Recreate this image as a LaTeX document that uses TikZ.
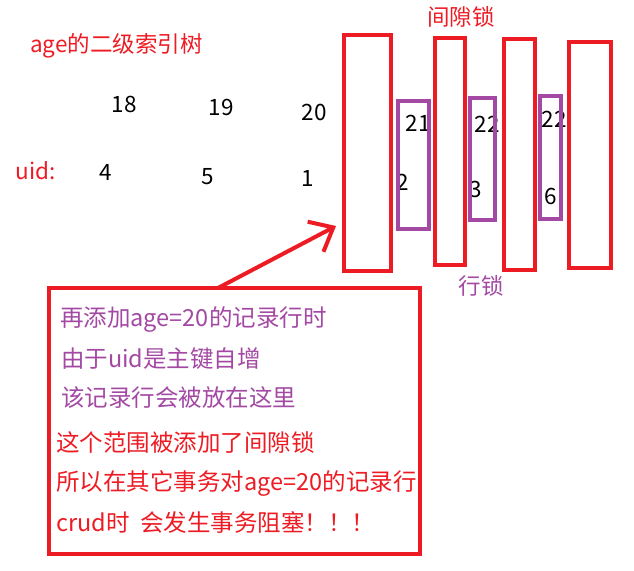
\documentclass[tikz,border=0pt]{standalone}
\usepackage{fontspec}
\newfontfamily\cjk{Noto Sans CJK SC}
\usetikzlibrary{arrows.meta}
\definecolor{pred}{HTML}{ED1C24}
\definecolor{ppur}{HTML}{A349A4}
\begin{document}
\begin{tikzpicture}[x=1pt,y=-1pt,
  txt/.style={font=\cjk\fontsize{22.5}{26}\selectfont, inner sep=0pt},
  btxt/.style={font=\cjk\fontsize{23.5}{27}\selectfont, inner sep=0pt, anchor=west},
  num/.style={txt, text=black},
  gapbox/.style={draw=pred, line width=4pt, inner sep=0pt, outer sep=0pt},
  rowbox/.style={draw=ppur, line width=4pt, inner sep=0pt, outer sep=0pt},
  redtxt/.style={btxt, text=pred},
  purtxt/.style={btxt, text=ppur},
  arr/.style={draw=pred, line width=4pt, -{Straight Barb[length=20pt,width=34pt,line width=4pt]}}]
\useasboundingbox (0,0) rectangle (634,570);
\fill[white] (0,0) rectangle (634,570);
% left labels
\node[txt, text=pred, anchor=west] (title) at (30,46) {age的二级索引树};
\node[txt, text=pred] (uidlbl) at (36,171) {uid:};
\node[num] (a18) at (124,104) {18};
\node[num] (a19) at (221,107) {19};
\node[num] (a20) at (314,112) {20};
\node[num] (u4) at (106,172) {4};
\node[num] (u5) at (208,177) {5};
\node[num] (u1) at (308,178) {1};
% numbers near boxes
\node[num] (a21) at (418,123) {21};
\node[num] (a22a) at (487,124) {22};
\node[num] (a22b) at (554,119) {22};
\node[num] (u2) at (403,182) {2};
\node[num] (u3) at (476,189) {3};
\node[num] (u6) at (551,196) {6};
% gap lock boxes
\node[gapbox, minimum width=47pt, minimum height=236pt] (g1) at (367.5,153) {};
\node[gapbox, minimum width=30pt, minimum height=227pt] (g2) at (450,151.5) {};
\node[gapbox, minimum width=31pt, minimum height=231pt] (g3) at (519.5,154.5) {};
\node[gapbox, minimum width=42pt, minimum height=226pt] (g4) at (590,155) {};
% row lock boxes
\node[rowbox, minimum width=31pt, minimum height=128pt] (r1) at (413.5,165) {};
\node[rowbox, minimum width=25pt, minimum height=122pt] (r2) at (482.5,159) {};
\node[rowbox, minimum width=21pt, minimum height=123pt] (r3) at (550.5,157.5) {};
\node[txt, text=pred] (gaplbl) at (461,17) {间隙锁};
\node[txt, text=ppur] (rowlbl) at (481,286) {行锁};
% explanation box
\node[gapbox, minimum width=371pt, minimum height=266pt] (tb) at (234.5,421) {};
\node[purtxt] (l1) at (60,320) {再添加age=20的记录行时};
\node[purtxt] (l2) at (61,359) {由于uid是主键自增};
\node[purtxt] (l3) at (61,398) {该记录行会被放在这里};
\node[redtxt] (l4) at (56,443) {这个范围被添加了间隙锁};
\node[redtxt] (l5) at (56,483) {所以在其它事务对age=20的记录行};
\node[redtxt] (l6) at (56,523) {crud时\ \ 会发生事务阻塞！！！};
% arrow
\coordinate (arrS) at (218,288);
\coordinate (arrE) at (336,226);
\draw[arr] (arrS) -- (arrE);
\end{tikzpicture}
\end{document}
